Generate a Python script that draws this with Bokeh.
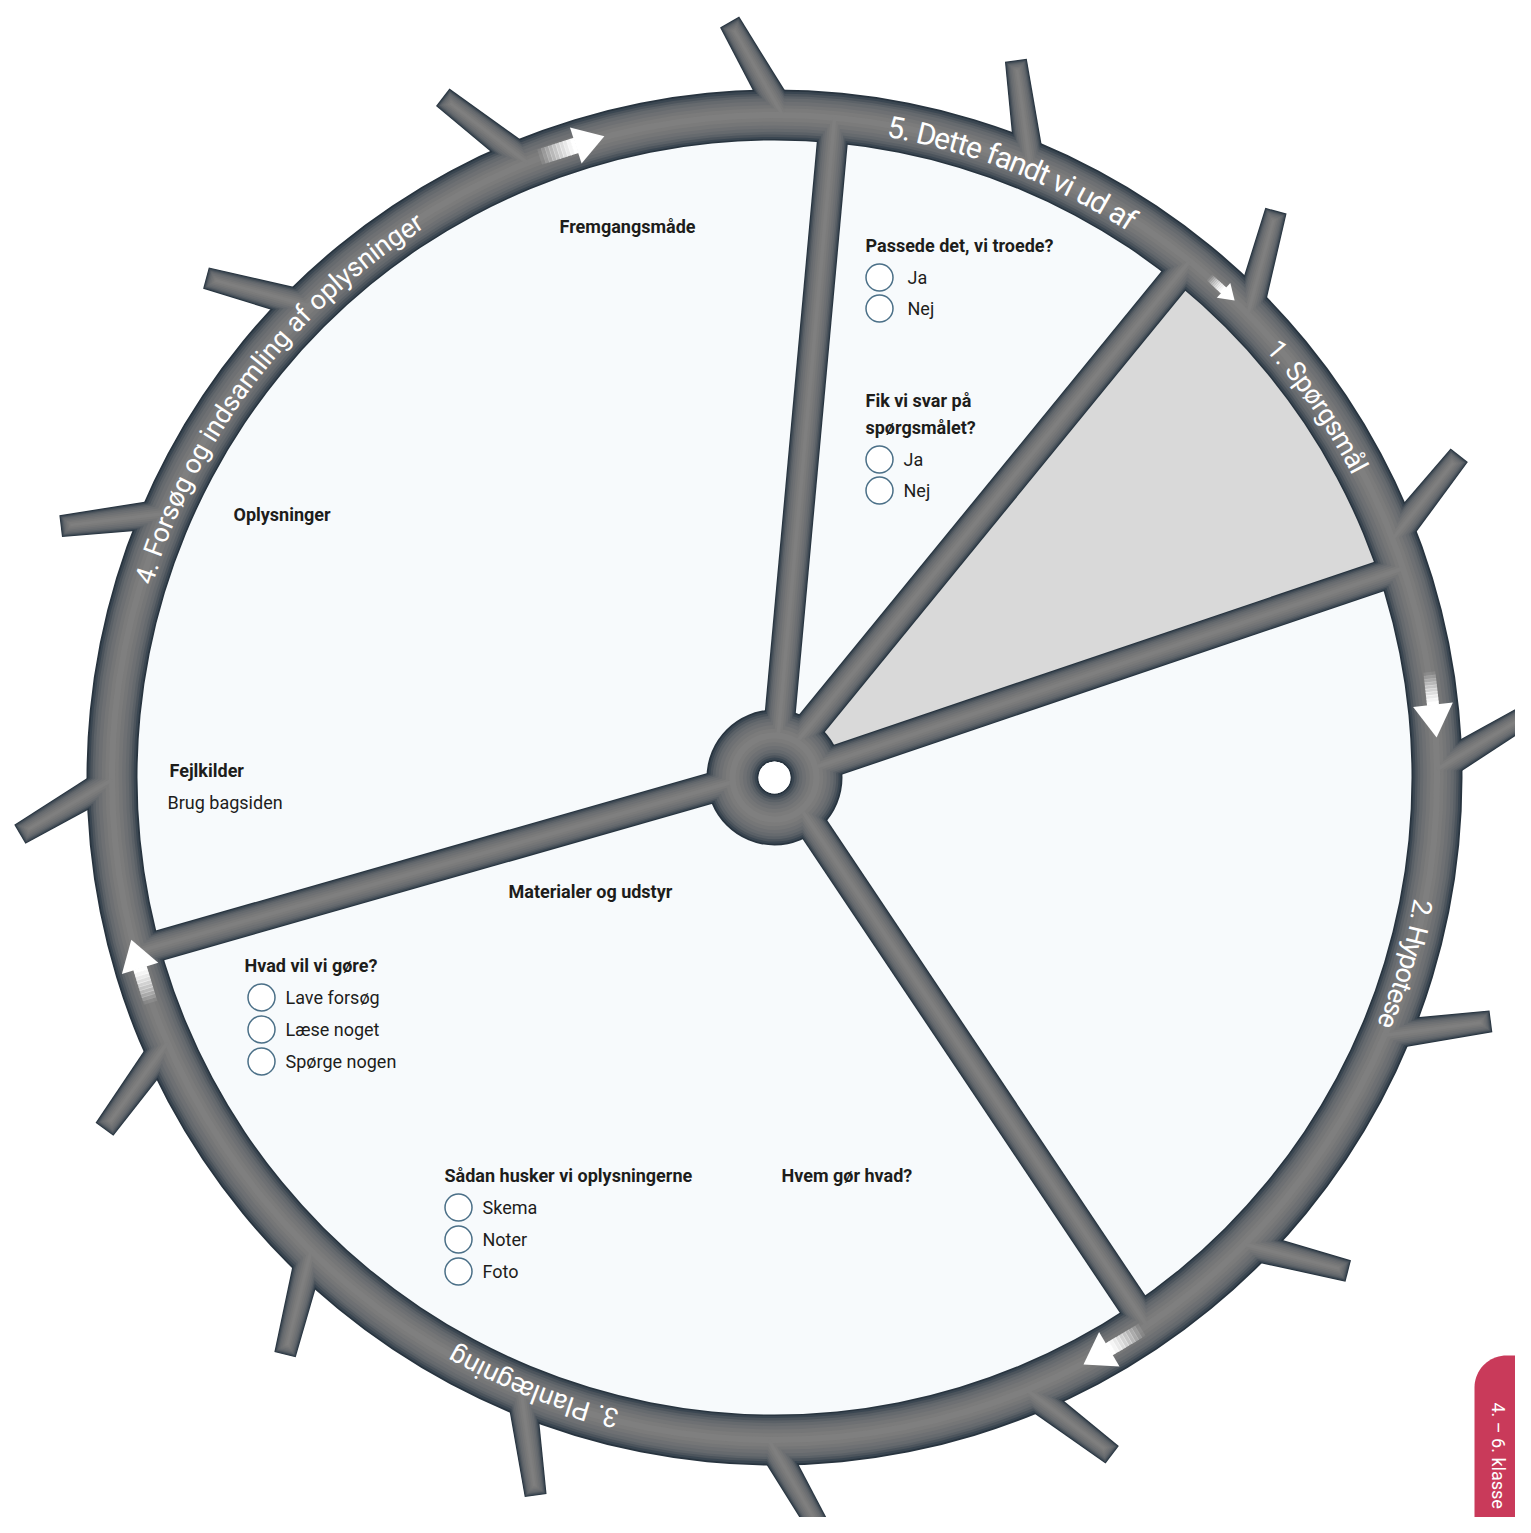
import numpy as np
from bokeh.plotting import figure
from bokeh.models import Range1d, ColumnDataSource
from bokeh.core.properties import value
from bokeh.embed import file_html
from bokeh.resources import INLINE

# ---------------- content ----------------
rim_labels = ["5. Dette fandt vi ud af", "1. Spørgsmål", "2. Hypotese",
              "3. Planlægning", "4. Forsøg og indsamling af oplysninger"]
rim_label_start_deg = [80.0, 41.0, -10.8, -103.8, 162.8]
rim_label_end_deg = [56.9, 27.3, -22.2, -119.3, 122.2]
rim_label_size = [30, 27, 27, 27, 27]

spoke_rim_deg = [84.8, 51.2, 18.4, -55.8, 195.3]
spoke_hub_deg = [85.0, 58.0, 14.0, -50.0, 186.0]
shaded_between = (2, 1)

thorn_deg = [89.3, 67.3, 44.4, 21.1, 0.7, -22.9, -44.8, -67.6, -90.5,
             -112.5, -134.4, -156.4, -179.8, 156.5, 134.6, 111.9]

arrow_deg = [107.8, 47.5, 6.3, -59.3, 197.0]
arrow_len = [68, 34, 66, 68, 66]

headers = ["Fremgangsmåde", "Passede det, vi troede?", "Fik vi svar på", "spørgsmålet?",
           "Oplysninger", "Fejlkilder", "Materialer og udstyr", "Hvad vil vi gøre?",
           "Sådan husker vi oplysningerne", "Hvem gør hvad?"]
notes = ["Brug bagsiden"]
option_groups = [["Ja", "Nej"], ["Ja", "Nej"],
                 ["Lave forsøg", "Læse noget", "Spørge nogen"],
                 ["Skema", "Noter", "Foto"]]
tab_text = "4. – 6. klasse"

# ---------------- layout (pixel positions in the picture) ----------------
header_px = [(559, 226), (865, 245), (865, 400), (865, 427), (233, 514), (169, 770),
             (508, 891), (244, 965), (444, 1175), (781, 1175)]
note_px = [(167, 802)]
group_circle_px = [(879, 277), (879, 459), (261, 997), (458, 1207)]
group_step = [31, 31, 32, 32]
group_text_dx = [28, 24, 24, 24]

IMG_H = 1533
FIG_W, FIG_H = 1515, 1517


def Y(py):
    return IMG_H - py


CX, CY = 774.0, Y(777)
C = np.array([CX, CY])
R_IN, R_OUT = 637.0, 688.0
R_MID, RIM_HW = (R_IN + R_OUT) / 2, (R_OUT - R_IN) / 2
HUB_R, HOLE_R = 68.0, 16.0
HUB_MID, HUB_HW = (HUB_R + HOLE_R) / 2, (HUB_R - HOLE_R) / 2
SPOKE_W = 31.0
THORN_OFF, THORN_LEN, THORN_HWB, THORN_HWT = 39.0, 86.0, 15.0, 11.0


def u(deg):
    r = np.radians(deg)
    return np.array([np.cos(r), np.sin(r)])


p = figure(width=FIG_W, height=FIG_H,
           x_range=Range1d(0, FIG_W), y_range=Range1d(Y(FIG_H), Y(0)),
           output_backend="svg", toolbar_location=None,
           x_axis_type=None, y_axis_type=None, min_border=0)
p.outline_line_color = None
p.background_fill_color = "white"
p.border_fill_color = "white"

# interior
p.circle(x=[CX], y=[CY], radius=R_MID, fill_color="#f7fafc", line_color=None)

# shaded sector
i2, i1 = shaded_between
arc = np.linspace(spoke_rim_deg[i2], spoke_rim_deg[i1], 60)
pts = [C + HUB_MID * u(spoke_hub_deg[i2])] + [C + 650 * u(a) for a in arc] + [C + HUB_MID * u(spoke_hub_deg[i1])]
p.patch([q[0] for q in pts], [q[1] for q in pts], fill_color="#d9d9d9", line_color=None)

# tube-like structure: rim, thorns, spokes, hub (drawn level by level)
levels = [(1.00, "#28343f"), (0.93, "#3a4651"), (0.85, "#4c545c"), (0.76, "#5b6167"),
          (0.66, "#666a6e"), (0.54, "#6e7073"), (0.40, "#757677"), (0.26, "#7b7b7b"),
          (0.12, "#7f7f7f")]
for f, col in levels:
    p.annulus(x=[CX], y=[CY], inner_radius=R_MID - RIM_HW * f, outer_radius=R_MID + RIM_HW * f,
              fill_color=col, line_color=None)
    xs, ys = [], []
    for a in thorn_deg:
        S = C + R_MID * u(a)
        T = C + R_OUT * u(a) + THORN_LEN * u(a + THORN_OFF)
        d = (T - S) / np.linalg.norm(T - S)
        n = np.array([-d[1], d[0]])
        T2 = T - d * (1 - f) * THORN_HWT
        q = [S + n * THORN_HWB * f, T2 + n * THORN_HWT * f, T2 - n * THORN_HWT * f, S - n * THORN_HWB * f]
        xs.append([v[0] for v in q])
        ys.append([v[1] for v in q])
    p.patches(xs, ys, fill_color=col, line_color=None)
    s0 = [C + HUB_MID * u(a) for a in spoke_hub_deg]
    s1 = [C + R_MID * u(a) for a in spoke_rim_deg]
    p.segment(x0=[v[0] for v in s0], y0=[v[1] for v in s0], x1=[v[0] for v in s1], y1=[v[1] for v in s1],
              line_width=SPOKE_W * f, line_color=col, line_cap="butt")
    p.annulus(x=[CX], y=[CY], inner_radius=HUB_MID - HUB_HW * f, outer_radius=HUB_MID + HUB_HW * f,
              fill_color=col, line_color=None)

p.circle(x=[CX], y=[CY], radius=HOLE_R, fill_color="white", line_color=None)

# curved rim labels
CW = {' ': 0.25, '.': 0.26, ',': 0.2, '?': 0.47, 'a': 0.54, 'b': 0.56, 'c': 0.52, 'd': 0.56,
      'e': 0.53, 'f': 0.35, 'g': 0.56, 'h': 0.55, 'i': 0.24, 'j': 0.24, 'k': 0.51, 'l': 0.24,
      'm': 0.88, 'n': 0.55, 'o': 0.57, 'p': 0.56, 'q': 0.57, 'r': 0.34, 's': 0.52, 't': 0.33,
      'u': 0.55, 'v': 0.48, 'w': 0.75, 'x': 0.5, 'y': 0.47, 'z': 0.5, 'æ': 0.85, 'ø': 0.57,
      'å': 0.54, 'D': 0.65, 'F': 0.55, 'H': 0.71, 'P': 0.63, 'S': 0.59}
R_TXT = 661.0
for lab, s, e, sz in zip(rim_labels, rim_label_start_deg, rim_label_end_deg, rim_label_size):
    ws = np.array([CW.get(ch, 0.56) for ch in lab])
    cum = np.cumsum(ws) - ws / 2
    frac = (cum - cum[0]) / (cum[-1] - cum[0])
    inset = 0.45 * ws[0] / ws.sum()
    th = s + (e - s) * (inset + frac * (1 - 2 * inset))
    src = ColumnDataSource(dict(x=CX + R_TXT * np.cos(np.radians(th)),
                                y=CY + R_TXT * np.sin(np.radians(th)),
                                t=list(lab), a=np.radians(th) - np.pi / 2))
    p.text(x="x", y="y", text="t", angle="a", source=src, text_font=value("Roboto"),
           text_font_size=f"{sz}px", text_color="white", text_align="center", text_baseline="middle")

# arrows along the rim
arrow_shape = [(30, 38, 16), (15, 20, 8), (33, 40, 12), (30, 40, 14), (30, 38, 14)]
for th, L, (hl, hw, sw) in zip(arrow_deg, arrow_len, arrow_shape):
    c = C + R_MID * u(th)
    d = u(th - 90)
    n = u(th)
    tip = c + d * L / 2
    tail = c - d * L / 2
    hb = tip - d * hl
    head = [tip, hb + n * hw / 2, hb - n * hw / 2]
    p.patch([v[0] for v in head], [v[1] for v in head], fill_color="white", line_color=None)
    nseg = 10
    xs, ys, al = [], [], []
    for k in range(nseg):
        a0 = tail + (hb - tail) * k / nseg
        a1 = tail + (hb - tail) * (k + 1) / nseg + d * 0.6
        q = [a0 + n * sw / 2, a1 + n * sw / 2, a1 - n * sw / 2, a0 - n * sw / 2]
        xs.append([v[0] for v in q])
        ys.append([v[1] for v in q])
        al.append(min(1.0, ((k + 0.5) / nseg) ** 0.8 * 1.05))
    p.patches(xs, ys, fill_color="white", fill_alpha=al, line_color=None)

# labels
TXT = "#1d1d1b"
p.text(x=[v[0] for v in header_px], y=[Y(v[1]) for v in header_px], text=headers,
       text_font=value("Roboto"), text_font_style="bold", text_font_size="18px",
       text_color=TXT, text_align="left", text_baseline="middle")
p.text(x=[v[0] for v in note_px], y=[Y(v[1]) for v in note_px], text=notes,
       text_font=value("Roboto"), text_font_size="18px",
       text_color=TXT, text_align="left", text_baseline="middle")
cx_, cy_, tx_, ty_, tt_ = [], [], [], [], []
for opts, (gx, gy), step, dx in zip(option_groups, group_circle_px, group_step, group_text_dx):
    for k, o in enumerate(opts):
        cx_.append(gx)
        cy_.append(Y(gy + k * step))
        tx_.append(gx + dx)
        ty_.append(Y(gy + k * step))
        tt_.append(o)
p.circle(x=cx_, y=cy_, radius=13.5, fill_color="white", line_color="#4a6f87", line_width=1.5)
p.text(x=tx_, y=ty_, text=tt_, text_font=value("Roboto"), text_font_size="18px",
       text_color=TXT, text_align="left", text_baseline="middle")

# red tab
TL_X, TL_Y, RR = 1474, 1355, 32
ang = np.linspace(180, 90, 20)
tx = [TL_X, TL_X] + list(TL_X + RR + RR * np.cos(np.radians(ang))) + [1560, 1560]
ty = [Y(1560), Y(TL_Y + RR)] + list(Y(TL_Y + RR) + RR * np.sin(np.radians(ang))) + [Y(TL_Y), Y(1560)]
p.patch(tx, ty, fill_color="#c93a5a", line_color=None)
p.text(x=[1498], y=[Y(1402)], text=[tab_text], angle=-np.pi / 2, text_font=value("Roboto"),
       text_font_size="18px", text_color="white", text_align="left", text_baseline="middle")

open("out.html", "w").write(file_html(p, INLINE))
